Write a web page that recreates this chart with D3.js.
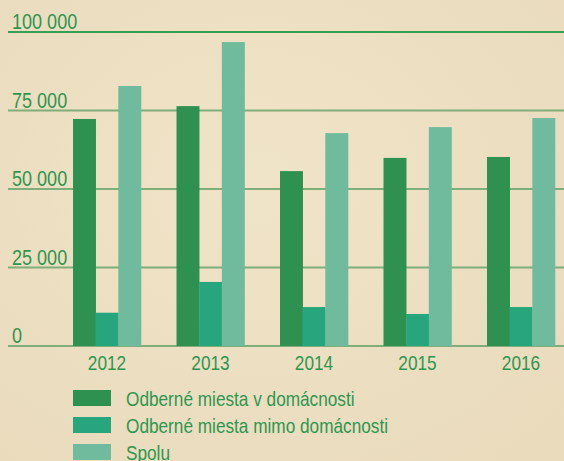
<!DOCTYPE html>
<html>
<head>
<meta charset="utf-8">
<script src="https://cdn.jsdelivr.net/npm/d3@7"></script>
<style>
  html, body { margin: 0; padding: 0; background: #ebdec0; }
  svg { display: block; }
  text { font-family: "Liberation Sans", Arial, sans-serif; fill: #2f9650; }
</style>
</head>
<body>
<svg id="chart" width="564" height="461"></svg>
<script>
// --- données ---
const years = ["2012", "2013", "2014", "2015", "2016"];
const seriesNames = ["Odberné miesta v domácnosti", "Odberné miesta mimo domácnosti", "Spolu"];
const domacnosti = [72300, 76400, 55700, 59900, 60200];
const mimoDomacnosti = [10600, 20400, 12400, 10200, 12400];
const spolu = [82800, 96800, 67800, 69700, 72600];
const yTicks = [0, 25000, 50000, 75000, 100000];
const colors = ["#2f914f", "#27a67d", "#70ba9d"];

const series = [domacnosti, mimoDomacnosti, spolu];

const svg = d3.select("#chart");
const W = 564, H = 461;
const narrow = 0.82; // police condensée simulée

// fond type papier
const defs = svg.append("defs");
const grad = defs.append("radialGradient").attr("id", "paper")
  .attr("cx", "45%").attr("cy", "40%").attr("r", "75%");
grad.append("stop").attr("offset", "0%").attr("stop-color", "#f0e4c8");
grad.append("stop").attr("offset", "100%").attr("stop-color", "#e9dbbc");
svg.append("rect").attr("width", W).attr("height", H).attr("fill", "url(#paper)");

// --- échelles ---
const y = d3.scaleLinear().domain([0, 100000]).range([346, 32]);
const x0 = d3.scaleBand().domain(years).range([55.25, 572.75])
  .paddingInner(0.343).paddingOuter(0.1715);
const x1 = d3.scaleBand().domain(d3.range(series.length)).range([0, x0.bandwidth()]);

const fmt = v => d3.format(",")(v).replace(/,/g, " ");

// lignes de grille
svg.append("g").selectAll("line")
  .data(yTicks)
  .join("line")
  .attr("x1", 8).attr("x2", W)
  .attr("y1", d => y(d)).attr("y2", d => y(d))
  .attr("stroke", d => d === 100000 ? "#34a055" : "#7fae7a")
  .attr("stroke-width", 2);

svg.append("g").selectAll("text")
  .data(yTicks)
  .join("text")
  .attr("transform", d => `translate(12,${y(d) - 3}) scale(${narrow},1)`)
  .attr("font-size", 22)
  .text(fmt);

// barres
const groups = svg.append("g").selectAll("g")
  .data(years)
  .join("g")
  .attr("transform", d => `translate(${x0(d)},0)`);

groups.selectAll("rect")
  .data((d, i) => series.map((s, k) => ({ k, v: s[i] })))
  .join("rect")
  .attr("x", d => x1(d.k))
  .attr("width", x1.bandwidth() + 0.3)
  .attr("y", d => y(d.v))
  .attr("height", d => y(0) - y(d.v))
  .attr("fill", d => colors[d.k]);

// axe X (étiquettes)
svg.append("g").selectAll("text")
  .data(years)
  .join("text")
  .attr("transform", d => `translate(${x0(d) + x0.bandwidth() / 2},370) scale(${narrow},1)`)
  .attr("text-anchor", "middle")
  .attr("font-size", 21)
  .text(d => d);

// légende
const legend = svg.append("g").selectAll("g")
  .data(seriesNames)
  .join("g")
  .attr("transform", (d, i) => `translate(73,${390 + i * 27})`);
legend.append("rect")
  .attr("width", 38).attr("height", 16)
  .attr("fill", (d, i) => colors[i]);
legend.append("text")
  .attr("transform", `translate(53,16) scale(${narrow},1)`)
  .attr("font-size", 21)
  .text(d => d);
</script>
</body>
</html>
